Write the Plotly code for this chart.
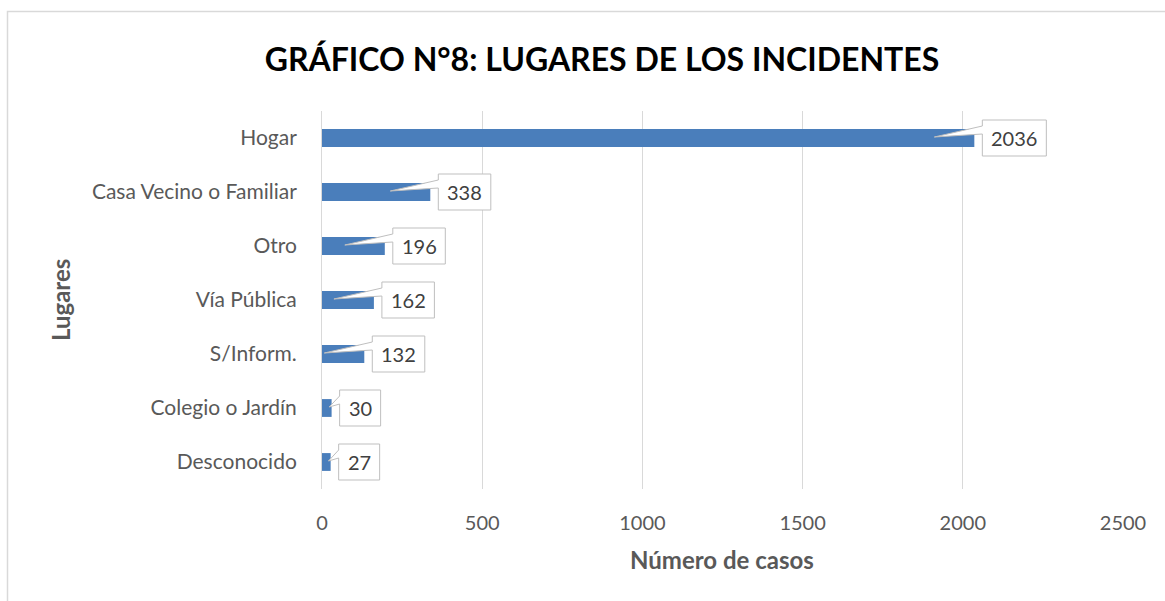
import plotly.graph_objects as go

categories = ["Hogar", "Casa Vecino o Familiar", "Otro", "Vía Pública", "S/Inform.", "Colegio o Jardín", "Desconocido"]
values = [2036, 338, 196, 162, 132, 30, 27]
x_ticks = [0, 500, 1000, 1500, 2000, 2500]

W, H = 1165, 601
# plot area in page pixel coords
PL, PR, PT, PB = 322, 1123, 111, 489
L, R, T, B = PL, W - PR, PT, H - PB
plot_w = PR - PL
plot_h = PB - PT
px_per_unit = plot_w / 2500

FONT = "Lato"
GRAY = "#595959"

fig = go.Figure()
ypos = list(range(len(categories)))
fig.add_trace(go.Bar(
    x=values, y=ypos, orientation="h", width=0.33,
    marker=dict(color="#4a7ebb", line=dict(width=0)),
    hoverinfo="skip",
))

shapes = []
annotations = []
for i, v in enumerate(values):
    barlen = v * px_per_unit
    tipx = -40 if barlen >= 40 else -barlen * 0.25
    txt = str(v)
    w = 18 + 11.5 * len(txt)
    bl, br = 8, 8 + w
    top, bot = 18, -18
    wh, wl = 12, 4
    path = (f"M {bl},{top} L {br},{top} L {br},{bot} L {bl},{bot} L {bl},{wl} "
            f"L {tipx:.1f},1 L {bl},{wh} Z")
    shapes.append(dict(
        type="path", xref="x", yref="y", xsizemode="pixel", ysizemode="pixel",
        xanchor=v, yanchor=i, path=path,
        fillcolor="white", line=dict(color="#bfbfbf", width=1), layer="above",
    ))
    annotations.append(dict(
        x=v, y=i, xref="x", yref="y", text=txt, showarrow=False,
        xshift=bl + w / 2, yshift=0, xanchor="center", yanchor="middle",
        font=dict(family=FONT, size=20, color="#404040"),
    ))

def px2paper_x(p):
    return (p - PL) / plot_w

def py2paper_y(p):
    return (PB - p) / plot_h

# outer chart border
shapes.append(dict(
    type="rect", xref="paper", yref="paper",
    x0=px2paper_x(7.5), x1=px2paper_x(1175), y0=py2paper_y(615), y1=py2paper_y(11.5),
    line=dict(color="#d9d9d9", width=1.5), fillcolor="rgba(0,0,0,0)", layer="below",
))

annotations.append(dict(
    x=px2paper_x(60), y=py2paper_y(300), xref="paper", yref="paper",
    text="<b>Lugares</b>", textangle=-90, showarrow=False,
    xanchor="center", yanchor="middle",
    font=dict(family=FONT, size=24, color=GRAY),
))
annotations.append(dict(
    x=px2paper_x(722), y=py2paper_y(559), xref="paper", yref="paper",
    text="<b>Número de casos</b>", showarrow=False,
    xanchor="center", yanchor="middle",
    font=dict(family=FONT, size=24, color=GRAY),
))

fig.update_layout(
    width=W, height=H,
    margin=dict(l=L, r=R, t=T, b=B),
    paper_bgcolor="white", plot_bgcolor="white",
    showlegend=False,
    title=dict(
        text="<b>GRÁFICO N°8: LUGARES DE LOS INCIDENTES</b>",
        x=602 / W, xanchor="center", xref="container",
        y=1 - 60 / H, yanchor="middle", yref="container",
        font=dict(family=FONT, size=32, color="black"),
    ),
    shapes=shapes,
    annotations=annotations,
    xaxis=dict(
        range=[0, 2500], tickvals=x_ticks, ticktext=[str(t) for t in x_ticks],
        showgrid=True, gridcolor="#d9d9d9", gridwidth=1, zeroline=False,
        showline=False, ticks="outside", ticklen=16, tickcolor="rgba(0,0,0,0)",
        tickfont=dict(family=FONT, size=20, color=GRAY), fixedrange=True,
    ),
    yaxis=dict(
        range=[len(categories) - 0.5, -0.5], tickvals=ypos, ticktext=categories,
        showgrid=False, zeroline=False,
        showline=True, linecolor="#d9d9d9", linewidth=1,
        ticks="outside", ticklen=20, tickcolor="rgba(0,0,0,0)",
        tickfont=dict(family=FONT, size=21, color=GRAY), fixedrange=True,
    ),
)

fig.write_html(
    "out.html",
    config={"displayModeBar": False, "staticPlot": True},
    post_script="document.body.style.margin='0';document.body.style.overflow='hidden';",
)
